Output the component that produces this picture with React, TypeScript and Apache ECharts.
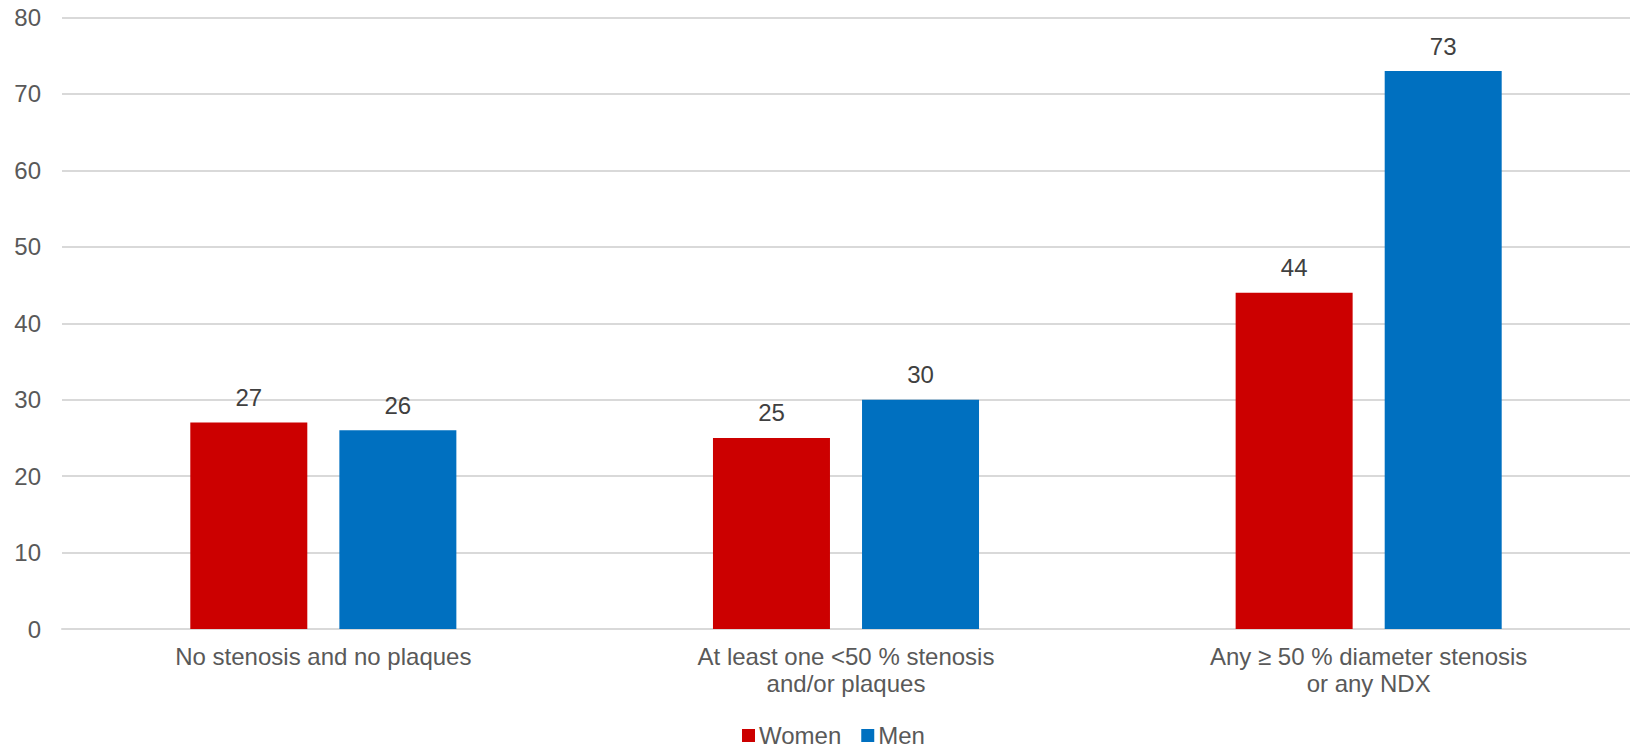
import React, { useEffect, useRef } from "react";
import * as echarts from "echarts";

const categories = [
  "No stenosis and no plaques",
  "At least one <50 % stenosis\nand/or plaques",
  "Any ≥ 50 % diameter stenosis\nor any NDX",
];
const women = [27, 25, 44];
const men = [26, 30, 73];
const seriesNames = ["Women", "Men"];
const colors = ["#CC0000", "#0070C0"];

const FONT = "'Liberation Sans', Arial, sans-serif";

export default function App() {
  const ref = useRef<HTMLDivElement>(null);
  useEffect(() => {
    if (!ref.current) return;
    const chart = echarts.init(ref.current, undefined, { renderer: "svg" });
    const labelCfg = {
      show: true,
      position: "top",
      distance: 13,
      color: "#404040",
      fontSize: 24,
      fontFamily: FONT,
    };
    chart.setOption({
      animation: false,
      textStyle: { fontFamily: FONT },
      grid: { left: 62, right: 0, top: 17.5, bottom: 119, containLabel: false },
      legend: {
        data: seriesNames,
        left: 742,
        top: 723.5,
        padding: 0,
        icon: "rect",
        itemWidth: 13,
        itemHeight: 13,
        itemGap: 20,
        textStyle: { fontSize: 24, color: "#595959", fontFamily: FONT, padding: [0, 0, 0, -1] },
      },
      xAxis: {
        type: "category",
        data: categories,
        axisTick: { show: false },
        axisLine: { show: true, lineStyle: { color: "#D9D9D9", width: 2 } },
        axisLabel: {
          margin: 14,
          fontSize: 24,
          lineHeight: 27,
          color: "#595959",
          fontFamily: FONT,
          interval: 0,
        },
      },
      yAxis: {
        type: "value",
        min: 0,
        max: 80,
        interval: 10,
        axisLine: { show: false },
        axisTick: { show: false },
        splitLine: { lineStyle: { color: "#D9D9D9", width: 2 } },
        axisLabel: { margin: 21, fontSize: 24, color: "#595959", fontFamily: FONT },
      },
      series: [
        {
          name: seriesNames[0],
          type: "bar",
          data: women,
          barWidth: 117,
          barGap: "27.4%",
          itemStyle: { color: colors[0] },
          label: labelCfg,
        },
        {
          name: seriesNames[1],
          type: "bar",
          data: men,
          barWidth: 117,
          barGap: "27.4%",
          itemStyle: { color: colors[1] },
          label: labelCfg,
        },
      ],
    });
    return () => chart.dispose();
  }, []);
  return (
    <div
      ref={ref}
      style={{ position: "absolute", left: 0, top: 0, width: 1630, height: 748, background: "#fff" }}
    />
  );
}
